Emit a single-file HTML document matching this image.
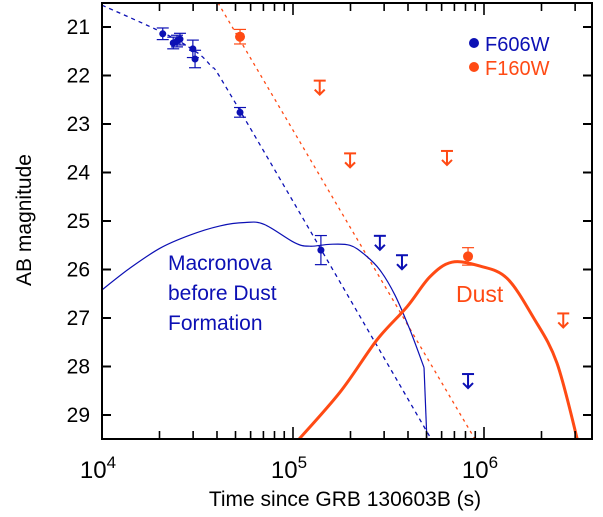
<!DOCTYPE html>
<html><head><meta charset="utf-8"><style>
body{margin:0;background:#fff;}
svg{display:block;font-family:"Liberation Sans",Arial,sans-serif;}
</style></head><body>
<svg id="chart" width="603" height="517" viewBox="0 0 603 517">
<g id="plot"></g>
</svg>
<script>
// ---- data ----
const magTicks=[21,22,23,24,25,26,27,28,29];
const decadeTicks=[4,5,6];
const f606T=[20800,23600,24700,25600,29900,30700,52800,140000];
const f606M=[21.14,21.33,21.29,21.25,21.45,21.66,22.76,25.6];
const f606Err=[0.12,0.12,0.12,0.12,0.18,0.18,0.1,0.3];
const f160T=[52800,825000];
const f160M=[21.2,25.73];
const f160Err=[0.15,0.18];
const f606LimT=[285000,372000,825000];
const f606LimM=[25.45,25.85,28.3];
const f160LimT=[138000,199000,640000,2600000];
const f160LimM=[22.25,23.75,23.7,27.05];
const macroLogT=[4.0,4.147,4.304,4.461,4.618,4.75,4.85,5.01,5.089,5.194,5.298,5.377,5.455,5.534,5.613,5.686];
const macroM=[26.42,25.97,25.56,25.29,25.1,25.03,25.07,25.45,25.52,25.48,25.5,25.7,26.01,26.53,27.25,28.02];
const macroDropLogT=[5.686,5.702];
const macroDropM=[28.02,29.6];
const dustLogT=[5.02,5.246,5.44,5.597,5.717,5.832,5.979,6.12,6.257,6.382,6.495];
const dustM=[29.55,28.53,27.45,26.77,26.15,25.85,25.93,26.18,26.98,27.93,29.6];
const blueFitLogT=[4.0,4.288,4.445,4.565,4.723,5.717];
const blueFitM=[20.55,21.06,21.39,21.78,22.73,29.45];
const redFitLogT=[4.607,5.953];
const redFitM=[20.5,29.5];

// ---- axes ----
const L=102,R=592,T=3,B=439;
const X=lt=>L+(lt-4)*191;
const Y=m=>27+(m-21)*48.5;
const xt=t=>X(Math.log10(t));
const NS="http://www.w3.org/2000/svg";
const g=document.getElementById('plot');
const BLUE="#0c10b4",RED="#ff4a14";
function mk(tag,a,parent){const e=document.createElementNS(NS,tag);for(const k in a)e.setAttribute(k,a[k]);(parent||g).appendChild(e);return e;}

const defs=mk('clipPath',{id:'clip'});mk('rect',{x:L,y:T,width:R-L,height:B-T},defs);
const cg=mk('g',{'clip-path':'url(#clip)'});



function smoothPath(P){
  let d=`M${P[0][0].toFixed(1)},${P[0][1].toFixed(1)}`;
  for(let i=0;i<P.length-1;i++){
    const p0=P[Math.max(0,i-1)],p1=P[i],p2=P[i+1],p3=P[Math.min(P.length-1,i+2)];
    const c1=[p1[0]+(p2[0]-p0[0])/6,p1[1]+(p2[1]-p0[1])/6];
    const c2=[p2[0]-(p3[0]-p1[0])/6,p2[1]-(p3[1]-p1[1])/6];
    d+=` C${c1[0].toFixed(1)},${c1[1].toFixed(1)} ${c2[0].toFixed(1)},${c2[1].toFixed(1)} ${p2[0].toFixed(1)},${p2[1].toFixed(1)}`;
  }
  return d;
}
function line(xs,ys,style,name,smooth){
  const P=xs.map((v,i)=>[X(v),Y(ys[i])]);
  let e;
  if(smooth) e=mk('path',Object.assign({d:smoothPath(P),fill:'none'},style),cg);
  else e=mk('polyline',Object.assign({points:P.map(p=>p.join(',')).join(' '),fill:'none'},style),cg);
  
  
}
line(blueFitLogT,blueFitM,{stroke:BLUE,'stroke-width':1.3,'stroke-dasharray':'4,4'},'f606w-fit-line',true);
line(redFitLogT,redFitM,{stroke:RED,'stroke-width':1.3,'stroke-dasharray':'3,4'},'f160w-fit-line',false);
line(macroLogT,macroM,{stroke:BLUE,'stroke-width':1.2},'macronova-curve',true);
line(macroDropLogT,macroDropM,{stroke:BLUE,'stroke-width':1.2},'macronova-drop',false);
line(dustLogT,dustM,{stroke:RED,'stroke-width':3},'dust-curve',true);

function pts(ts,ms,es,col,name){
  ts.forEach((t,i)=>{
    const x=xt(t),y=Y(ms[i]),d=es[i]*48.5;
    const gg=mk('g',{},cg);
    
    
    mk('line',{x1:x,x2:x,y1:y-d,y2:y+d,stroke:col,'stroke-width':1.2},gg);
    mk('line',{x1:x-6,x2:x+6,y1:y-d,y2:y-d,stroke:col,'stroke-width':1.2},gg);
    mk('line',{x1:x-6,x2:x+6,y1:y+d,y2:y+d,stroke:col,'stroke-width':1.2},gg);
    mk('circle',{cx:x,cy:y,r:name==='f160w-point'?5:3.5,fill:col},gg);
  });
}
pts(f606T,f606M,f606Err,BLUE,'f606w-point');
pts(f160T,f160M,f160Err,RED,'f160w-point');

function lims(ts,ms,col,name){
  ts.forEach((t,i)=>{
    const x=xt(t),y=Y(ms[i]);
    const gg=mk('g',{stroke:col,'stroke-width':2,fill:'none'},cg);
    
    
    mk('line',{x1:x-6,x2:x+6,y1:y-7,y2:y-7},gg);
    mk('line',{x1:x,x2:x,y1:y-7,y2:y+7},gg);
    mk('polyline',{points:`${x-5},${y+2} ${x},${y+7} ${x+5},${y+2}`},gg);
  });
}
lims(f606LimT,f606LimM,BLUE,'f606w-upper-limit');
lims(f160LimT,f160LimM,RED,'f160w-upper-limit');

// frame
const fr=mk('rect',{x:L,y:T,width:R-L,height:B-T,fill:'none',stroke:'#000','stroke-width':2});



magTicks.forEach(m=>{
  const y=Y(m);
  mk('line',{x1:L,x2:L+9,y1:y,y2:y,stroke:'#000','stroke-width':2});
  mk('line',{x1:R-9,x2:R,y1:y,y2:y,stroke:'#000','stroke-width':2});
  const t=mk('text',{x:L-12,y:y+7,'text-anchor':'end','font-size':21});
  t.textContent=m;
  
  
});
for(let d=4;d<=6;d++){
  for(let k=1;k<=9;k++){
    const lt=d+Math.log10(k);
    if(lt>6.57)continue;
    const x=X(lt),len=k===1?12:8;
    mk('line',{x1:x,x2:x,y1:B,y2:B-len,stroke:'#000','stroke-width':1.6});
    mk('line',{x1:x,x2:x,y1:T,y2:T+len,stroke:'#000','stroke-width':1.6});
  }
}
decadeTicks.forEach(d=>{
  const t=mk('text',{x:X(d)-4,y:478,'text-anchor':'middle','font-size':24});
  t.textContent='10';
  const s=mk('tspan',{dy:-10,'font-size':17},t);s.textContent=d;
  
  
});

function txt(x,y,s,size,col,name,extra){
  const t=mk('text',Object.assign({x:x,y:y,'font-size':size,fill:col},extra||{}));
  t.textContent=s;
  
  
  return t;
}
txt(345,506,'Time since GRB 130603B (s)',21,'#000','x-axis-title',{'text-anchor':'middle'});
txt(0,0,'AB magnitude',21,'#000','y-axis-title',{'text-anchor':'middle',transform:'translate(31,220) rotate(-90)'});
txt(168,270,'Macronova',21,BLUE,'macronova-label');
txt(168,300,'before Dust',21,BLUE,'macronova-label');
txt(168,330,'Formation',21,BLUE,'macronova-label');
txt(456,302,'Dust',23,RED,'dust-label');

const lg=mk('g',{});


mk('circle',{cx:474,cy:43,r:5,fill:BLUE},lg);
txt(485,51,'F606W',20,BLUE,'legend-entry-f606w');
mk('circle',{cx:474,cy:67,r:5,fill:RED},lg);
txt(485,75,'F160W',20,RED,'legend-entry-f160w');
</script>
</body></html>
